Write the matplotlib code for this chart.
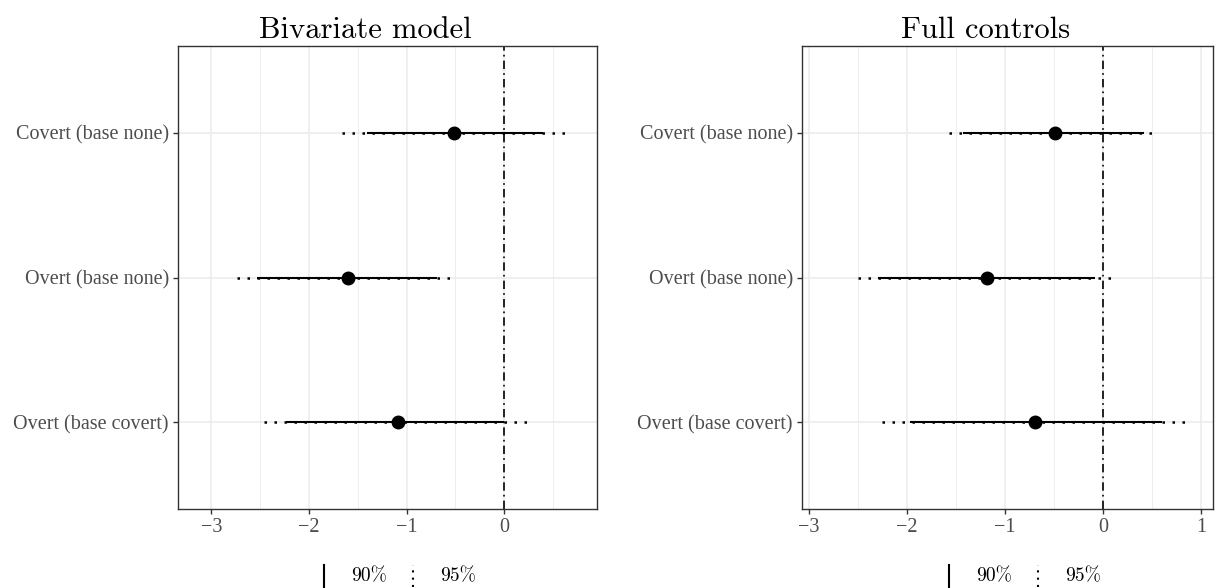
import matplotlib.pyplot as plt
from matplotlib.lines import Line2D
from matplotlib.ticker import MultipleLocator

terms = ["Overt (base covert)", "Overt (base none)", "Covert (base none)"]
ypos = [1, 2, 3]

# Bivariate model
biv_est = [-1.09, -1.60, -0.51]
biv_lo90 = [-2.23, -2.53, -1.40]
biv_hi90 = [0.00, -0.69, 0.40]
biv_lo95 = [-2.46, -2.74, -1.66]
biv_hi95 = [0.23, -0.49, 0.66]

# Full controls
full_est = [-0.69, -1.18, -0.49]
full_lo90 = [-1.97, -2.30, -1.43]
full_hi90 = [0.60, -0.08, 0.42]
full_lo95 = [-2.25, -2.50, -1.57]
full_hi95 = [0.84, 0.09, 0.54]

TICKFONT = "Liberation Serif"
TITLEFONT = "cmr10"
W, H = 1215, 588

fig = plt.figure(figsize=(12.15, 5.88), dpi=100)

def pos(x0, x1, y0=46, y1=509):
    return [x0 / W, 1 - y1 / H, (x1 - x0) / W, (y1 - y0) / H]

panels = [
    ("Bivariate model", pos(178, 597), (-3.34, 0.95),
     biv_est, biv_lo90, biv_hi90, biv_lo95, biv_hi95),
    ("Full controls", pos(802, 1213), (-3.07, 1.12),
     full_est, full_lo90, full_hi90, full_lo95, full_hi95),
]

for title, rect, xl, est, lo90, hi90, lo95, hi95 in panels:
    ax = fig.add_axes(rect)
    ax.set_xlim(*xl)
    ax.set_ylim(0.4, 3.6)
    ax.xaxis.set_major_locator(MultipleLocator(1))
    ax.xaxis.set_minor_locator(MultipleLocator(0.5))
    ax.set_yticks(ypos)
    ax.set_yticklabels(terms)
    ax.grid(which="major", color="#EBEBEB", lw=1.1, zorder=0)
    ax.grid(which="minor", axis="x", color="#EBEBEB", lw=0.6, zorder=0)
    ax.set_axisbelow(True)
    for s in ax.spines.values():
        s.set_color("#333333")
        s.set_linewidth(1.0)
    ax.tick_params(which="major", length=3.5, width=1.0, color="#333333",
                   labelcolor="#4D4D4D", labelsize=14.5, pad=3)
    ax.tick_params(which="minor", length=0)
    for lab in ax.get_xticklabels() + ax.get_yticklabels():
        lab.set_fontfamily(TICKFONT)

    ax.axvline(0, color="black", lw=1.2, dashes=(5, 2.5, 1, 2.5), zorder=2)
    ax.hlines(ypos, lo95, hi95, color="black", lw=1.8,
              linestyles=(0, (1, 3)), zorder=3)
    ax.hlines(ypos, lo90, hi90, color="black", lw=1.5, zorder=4)
    ax.plot(est, ypos, "o", color="black", ms=9, zorder=5)

    # title, centred a little left of the panel centre as in the original
    cx = (rect[0] + rect[2] / 2) - 22 / W
    fig.text(cx, 1 - 38 / H, title, fontsize=22, fontfamily=TITLEFONT,
             ha="center", va="baseline")

# bottom legends (one under each panel)
for cx in [324, 949]:
    y0, y1, yc = 1 - 587 / H, 1 - 565 / H, 1 - 576 / H
    fig.add_artist(Line2D([cx / W, cx / W], [y0, y1], color="black", lw=1.5,
                          transform=fig.transFigure))
    fig.text((cx + 27) / W, yc, "90%", fontsize=14, fontfamily=TITLEFONT,
             va="center", ha="left")
    fig.add_artist(Line2D([(cx + 89) / W, (cx + 89) / W], [y0, y1], color="black",
                          lw=1.5, linestyle=(0, (1, 2.5)), transform=fig.transFigure))
    fig.text((cx + 116) / W, yc, "95%", fontsize=14, fontfamily=TITLEFONT,
             va="center", ha="left")

fig.savefig("out.png", dpi=100)
